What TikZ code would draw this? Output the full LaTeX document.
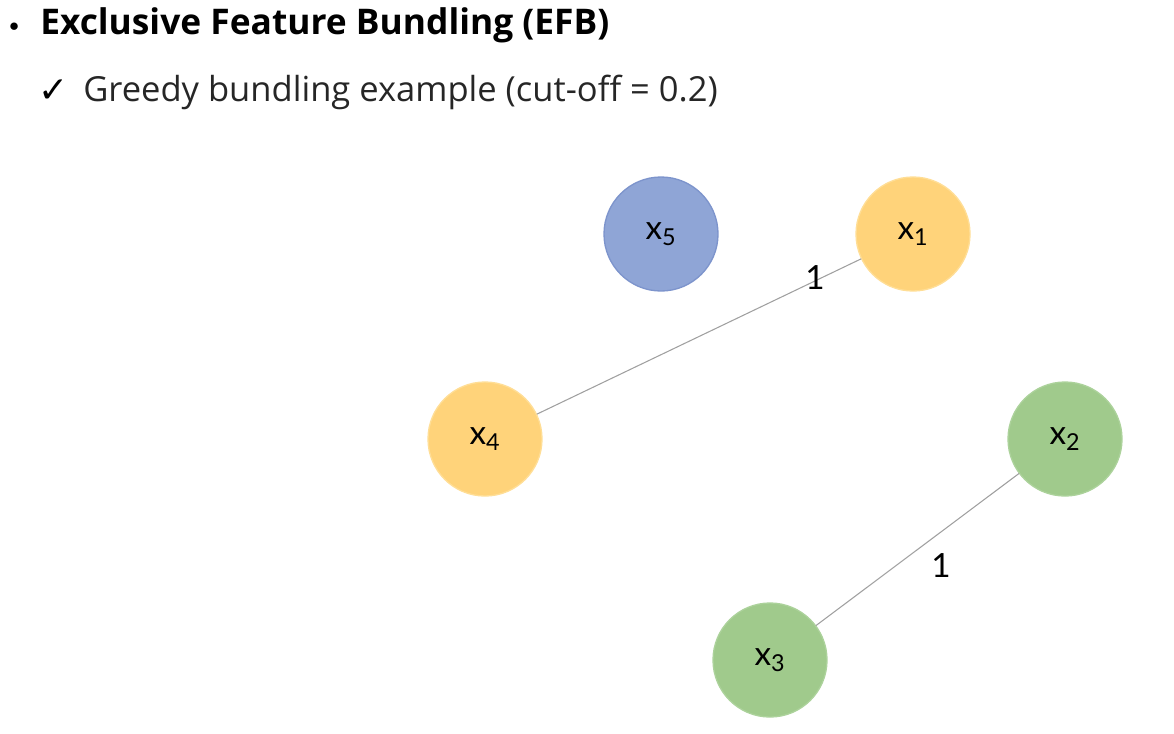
\documentclass[tikz,border=0pt]{standalone}
\usepackage{fontspec}
\setmainfont{Open Sans}
\newfontfamily\labfont{Lato}
\newfontfamily\symfont{DejaVu Sans}
\definecolor{bluefill}{RGB}{143,165,214}
\definecolor{blueline}{RGB}{125,148,204}
\definecolor{yelfill}{RGB}{255,211,122}
\definecolor{yelline}{RGB}{255,222,150}
\definecolor{grnfill}{RGB}{160,202,140}
\definecolor{grnline}{RGB}{172,210,155}
\definecolor{edgegray}{RGB}{160,160,160}

\begin{document}
\begin{tikzpicture}[x=0.75pt,y=-0.75pt,line cap=round,line join=round,
  feat/.style={circle,minimum size=85.5pt,inner sep=0pt,line width=1pt,font=\labfont\fontsize{25}{27}\selectfont},
  bluefeat/.style={feat,fill=bluefill,draw=blueline},
  yelfeat/.style={feat,fill=yelfill,draw=yelline},
  grnfeat/.style={feat,fill=grnfill,draw=grnline},
  conflict/.style={draw=edgegray,line width=0.8pt},
  wlabel/.style={font=\labfont\fontsize{25}{27}\selectfont,inner sep=1pt}]
  \useasboundingbox (0,0) rectangle (1174,733);
  % heading
  \node[anchor=west,inner sep=0pt] (dot) at (9,27) {\fontsize{14}{16}\selectfont$\bullet$};
  \node[anchor=west,inner sep=0pt] (title) at (40,25) {\fontsize{26.5}{30}\selectfont\bfseries Exclusive Feature Bundling (EFB)};
  \node[anchor=west,inner sep=0pt] (tick) at (38,91) {\symfont\fontsize{27}{30}\selectfont ✓};
  \node[anchor=west,inner sep=0pt,text=black!85] (sub) at (83,92) {\fontsize{25.9}{30}\selectfont Greedy bundling example (cut-off = 0.2)};
  % features
  \node[bluefeat] (x5) at (661,234) {x\textsubscript{5}};
  \node[yelfeat] (x1) at (913,234) {x\textsubscript{1}};
  \node[yelfeat] (x4) at (485,439) {x\textsubscript{4}};
  \node[grnfeat] (x2) at (1065,439) {x\textsubscript{2}};
  \node[grnfeat] (x3) at (770,660) {x\textsubscript{3}};
  % conflicts
  \draw[conflict] (x1) -- (x4);
  \draw[conflict] (x2) -- (x3);
  \node[wlabel] (w14) at (815,278) {1};
  \node[wlabel] (w23) at (941,566) {1};
\end{tikzpicture}
\end{document}
